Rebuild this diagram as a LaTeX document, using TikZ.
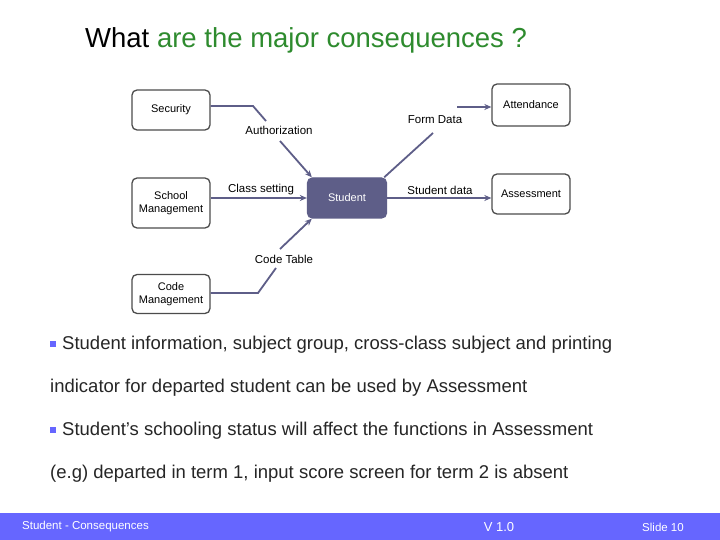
\documentclass[tikz,border=0pt]{standalone}
\usepackage{fontspec}
\setmainfont{Liberation Sans}
\usetikzlibrary{arrows.meta}
\begin{document}
\begin{tikzpicture}[x=1pt,y=-1pt,
  box/.style={draw=black!70,line width=1.3pt,rounded corners=5pt,align=center,font=\fontsize{11}{13}\selectfont,inner sep=0pt},
  lbl/.style={font=\fontsize{11.5}{13}\selectfont,inner sep=1pt},
  body/.style={font=\fontsize{18.5}{21}\selectfont,anchor=west,inner sep=0pt,text=black!85}]
\definecolor{foot}{HTML}{6666FF}
\definecolor{tgreen}{HTML}{2E8B2E}
\definecolor{lc}{HTML}{5E5E88}
\tikzset{conn/.style={draw=lc,line width=1.8pt},arr/.style={conn,-{Stealth[length=7pt,width=6pt]}}}
\useasboundingbox (0,0) rectangle (720,540);
\fill[white] (0,0) rectangle (720,540);
\node[anchor=west,font=\fontsize{27.5}{30}\selectfont,inner sep=0pt] (title) at (85,40) {What \textcolor{tgreen}{are the major consequences ?}};
% boxes
\node[box,minimum width=78,minimum height=40] (sec) at (171,110) {Security};
\node[box,minimum width=78,minimum height=50] (sch) at (171,203) {School\\Management};
\node[box,minimum width=78,minimum height=39] (cod) at (171,294) {Code\\Management};
\node[box,fill=lc,draw=lc,text=white,minimum width=79,minimum height=40] (stu) at (347,198) {Student};
\node[box,minimum width=78,minimum height=42] (att) at (531,105) {Attendance};
\node[box,minimum width=78,minimum height=40] (ass) at (531,194) {Assessment};
% labels
\node[lbl] (auth) at (279,130) {Authorization};
\node[lbl] (cs) at (261,190) {Class setting};
\node[lbl] (ct) at (284,259) {Code Table};
\node[lbl] (fd) at (435,120) {Form Data};
\node[lbl] (sd) at (440,190) {Student data};
% connectors
\coordinate (a1) at (253,106); \coordinate (a2) at (266,121);
\coordinate (a3) at (280,141);
\draw[conn] (sec.east|-a1) -- (a1) -- (a2);
\draw[arr] (a3) -- ([xshift=5]stu.north west);
\draw[arr] (sch.east|-stu.west) -- (stu.west);
\coordinate (c1) at (258,293); \coordinate (c2) at (276,268); \coordinate (c3) at (280,249);
\draw[conn] (cod.east|-c1) -- (c1) -- (c2);
\draw[arr] (c3) -- ([xshift=5]stu.south west);
\coordinate (f1) at (433,133); \coordinate (f2) at (457,107);
\draw[conn] ([xshift=-3]stu.north east) -- (f1);
\draw[arr] (f2) -- (att.west|-f2);
\draw[arr] (stu.east) -- (ass.west|-stu.east);
% text
\fill[foot] (50,341) rectangle +(6,6);
\node[body] (t1) at (62,345) {Student information, subject group, cross-class subject and printing};
\node[body] (t2) at (50,388) {indicator for departed student can be used by Assessment};
\fill[foot] (50,427) rectangle +(6,6);
\node[body] (t3) at (62,431) {Student’s schooling status will affect the functions in Assessment};
\node[body] (t4) at (50,474) {(e.g) departed in term 1, input score screen for term 2 is absent};
% footer
\fill[foot] (0,513) rectangle (720,540);
\node[anchor=west,text=white,font=\fontsize{11.5}{13}\selectfont,inner sep=0pt] (f1t) at (22,527) {Student - Consequences};
\node[text=white,font=\fontsize{13}{15}\selectfont] (f2t) at (499,527) {V 1.0};
\node[text=white,font=\fontsize{11.5}{13}\selectfont] (f3t) at (663,527) {Slide 10};
\end{tikzpicture}
\end{document}
